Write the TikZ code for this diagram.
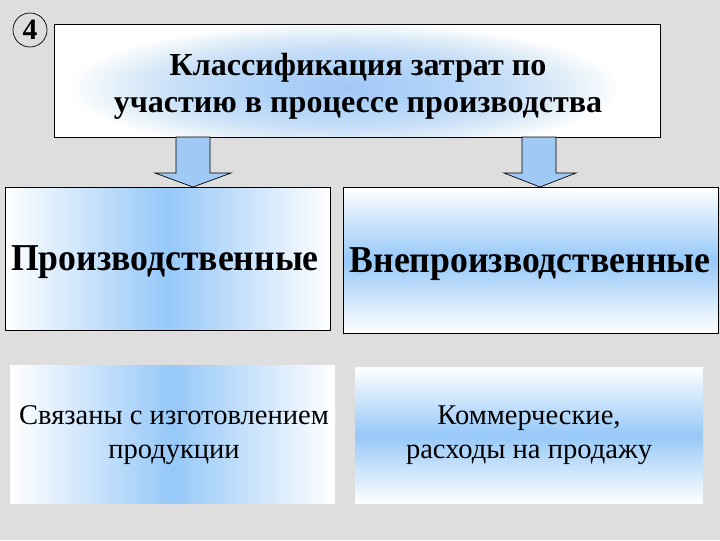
\documentclass[tikz,border=0pt]{standalone}
\usepackage{fontspec}
\setmainfont{Liberation Serif}
\newfontfamily\narrowbold[FakeStretch=0.94]{Liberation Serif Bold}
\definecolor{bg}{RGB}{222,222,222}
\definecolor{sky}{RGB}{150,200,248}
\definecolor{arrowblue}{RGB}{160,202,245}
\begin{document}
\begin{tikzpicture}[x=0.025cm,y=-0.025cm,
  bord/.style={draw=black,line width=0.6pt},
  bigword/.style={font=\narrowbold\fontsize{27}{30}\selectfont,inner sep=0pt,anchor=base},
  small/.style={font=\fontsize{20.3}{24}\selectfont,align=center,inner sep=0pt},
  arr/.style={draw=black,line width=0.5pt,fill=arrowblue}]
\fill[bg] (0,0) rectangle (720,540);
\useasboundingbox (0,0) rectangle (720,540);
% title box
\fill[white] (54,24) rectangle (660,137);
\begin{scope}
\clip (54,24) rectangle (660,137);
\foreach \i in {1,...,40} {\fill[sky,opacity=0.04] (345,88) ellipse ({6.8*\i} and {1.6*\i});}
\end{scope}
\draw[bord] (54,24) rectangle (660,137);
\node[font=\bfseries\fontsize{22.8}{26.3}\selectfont,align=center,inner sep=0pt] (title) at (358,86) {Классификация затрат по\\участию в процессе производства};
% number
\node[draw=black,line width=0.5pt,circle,minimum size=0.85cm,inner sep=0pt,font=\bfseries\fontsize{21}{22}\selectfont] (num) at (30,30) {4};
% arrows
\draw[arr] (176,137) -- (210,137) -- (210,173) -- (231,173) -- (193,187) -- (155,173) -- (176,173) -- cycle;
\draw[arr] (522,137) -- (556,137) -- (556,173) -- (576,173) -- (540,187) -- (504,173) -- (522,173) -- cycle;
% mid left
\shade[left color=white,right color=white,middle color=sky] (5,187) rectangle (330,330);
\draw[bord] (5,187) rectangle (330,330);
\node[bigword] (prod) at (165,270) {Производственные};
% mid right
\shade[top color=white,bottom color=white,middle color=sky] (343,187) rectangle (718,333);
\draw[bord] (343,187) rectangle (718,333);
\node[bigword] (neprod) at (530,272) {Внепроизводственные};
% bottom left
\shade[left color=white,right color=white,middle color=sky] (10,365) rectangle (335,503);
\node[small] (d1) at (174,435) {Связаны с изготовлением\\продукции};
% bottom right
\shade[top color=white,bottom color=white,middle color=sky] (355,367) rectangle (703,503);
\node[small] (d2) at (529,435) {Коммерческие,\\расходы на продажу};
\end{tikzpicture}
\end{document}
